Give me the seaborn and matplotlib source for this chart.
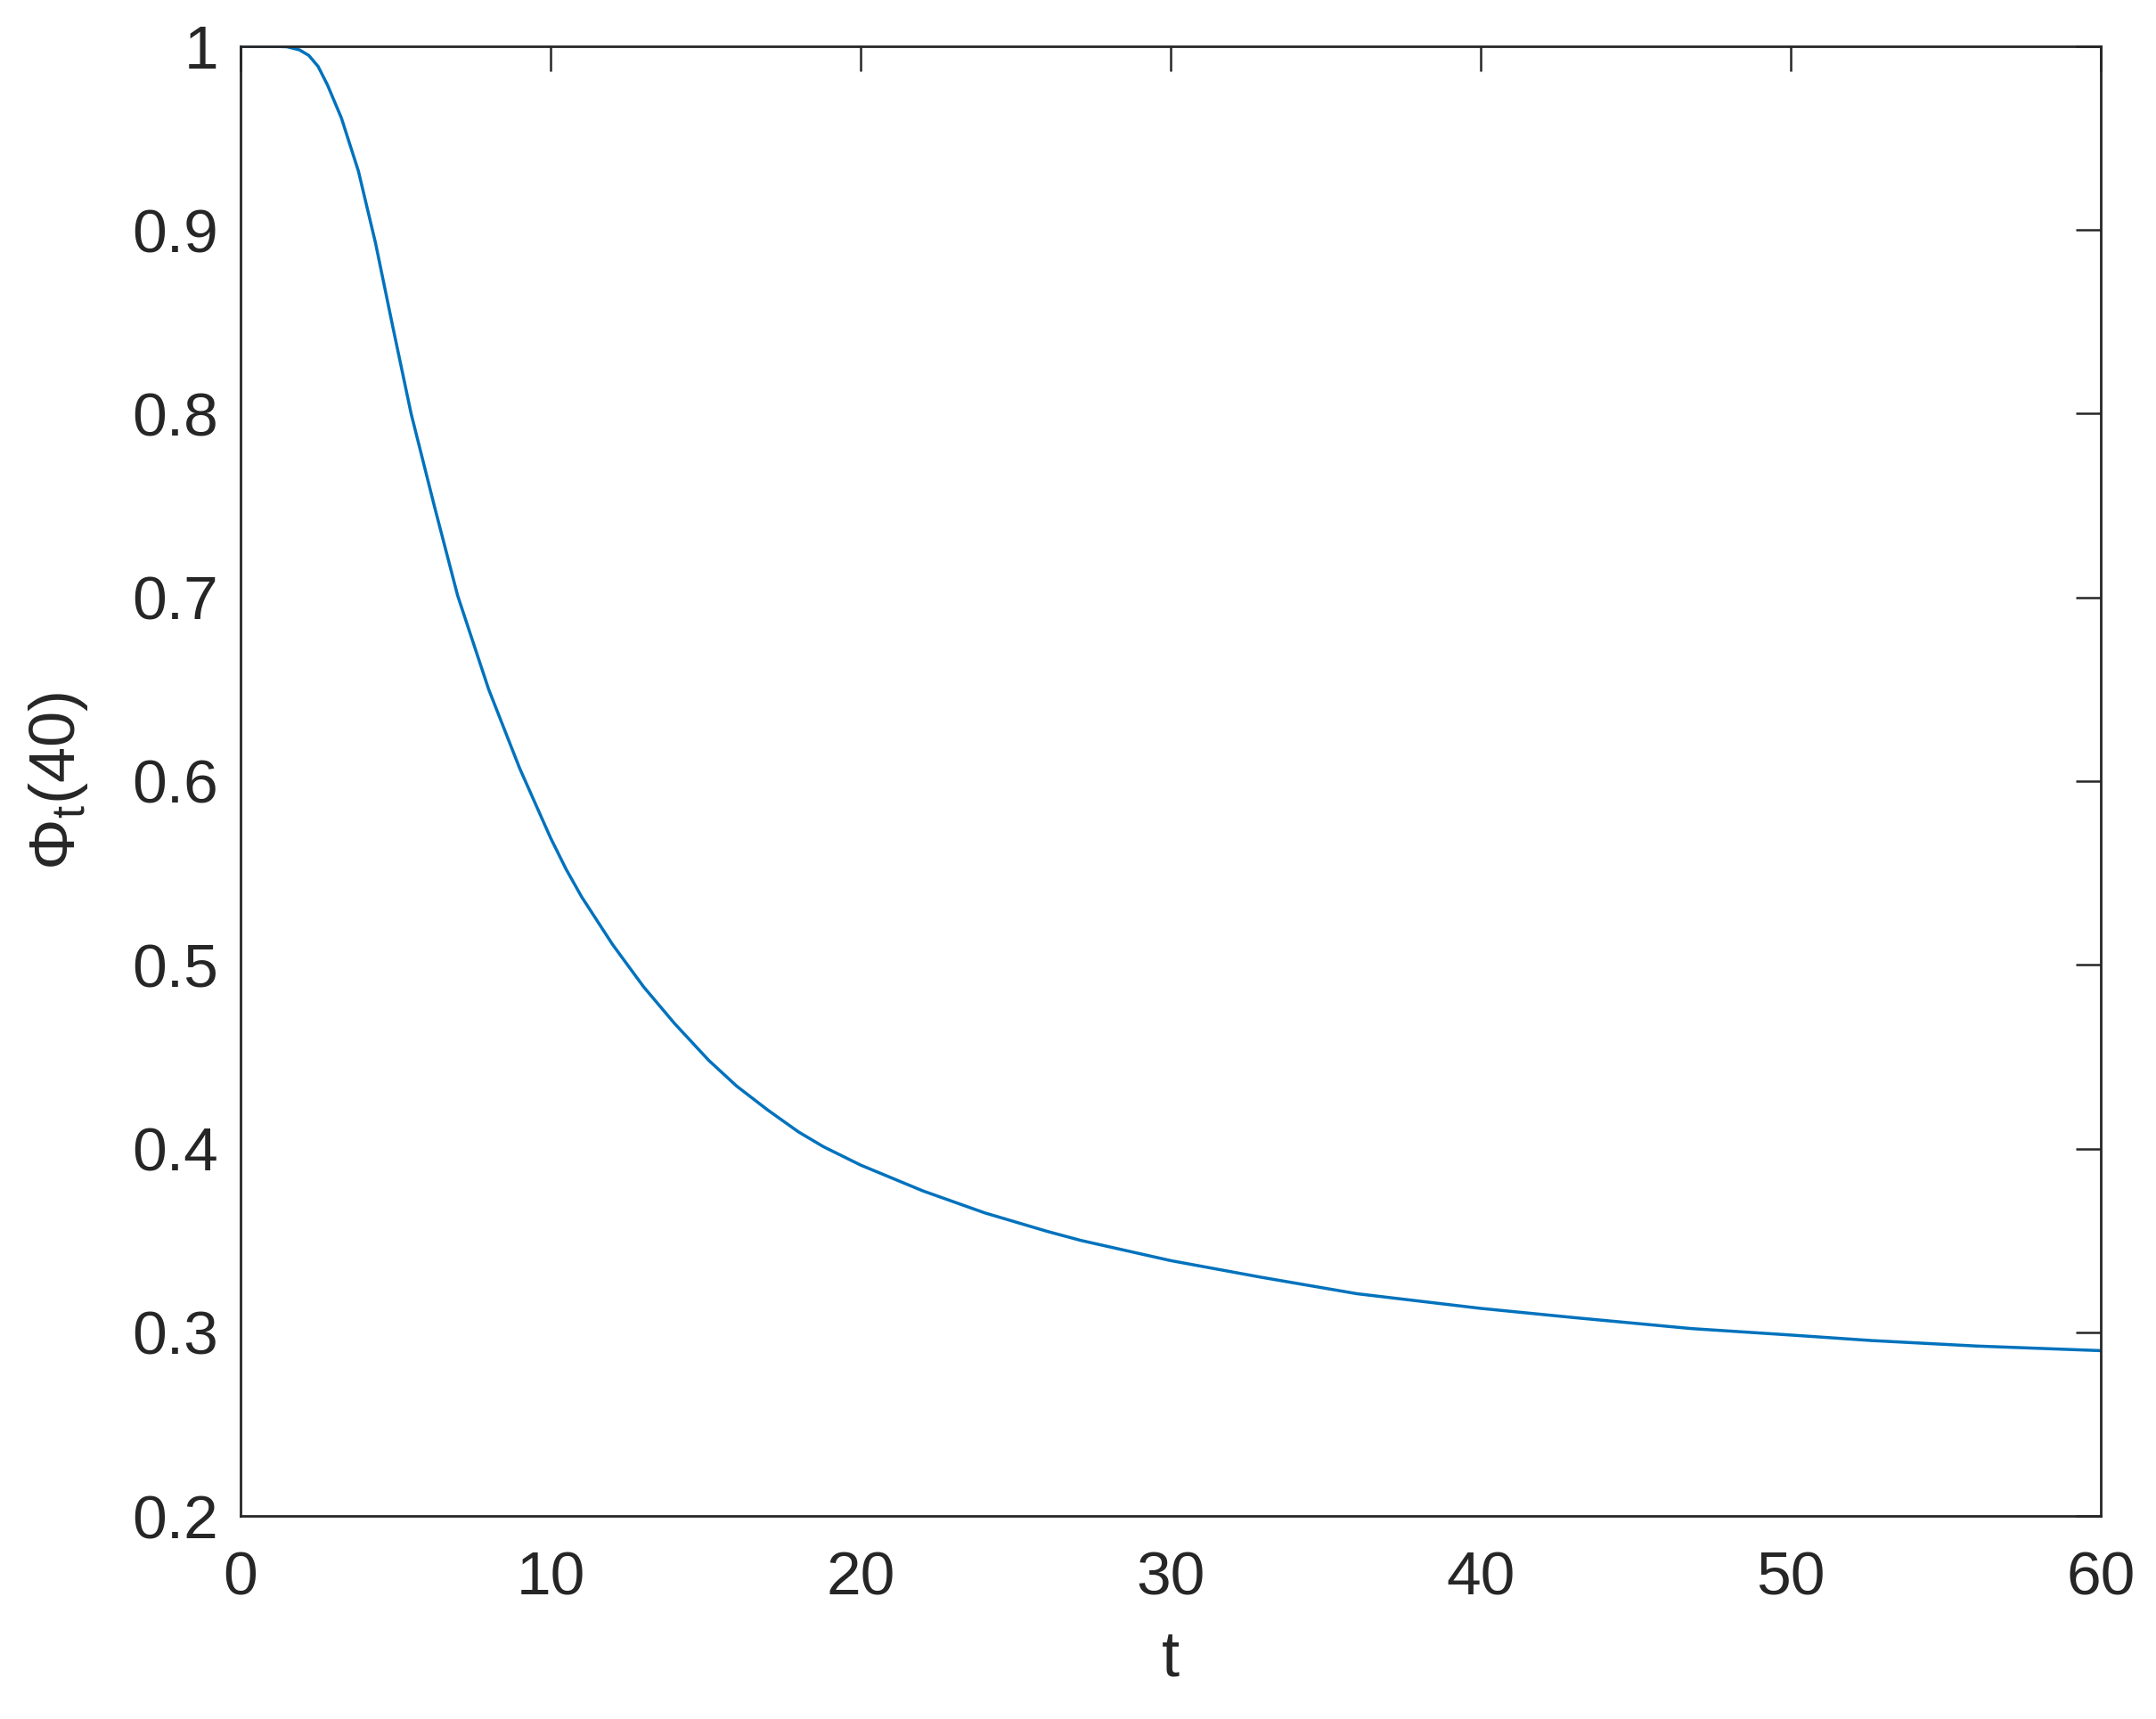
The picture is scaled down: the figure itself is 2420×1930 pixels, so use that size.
import numpy as np
import pandas as pd
import matplotlib
matplotlib.use('Agg')
import matplotlib.pyplot as plt
import seaborn as sns

# values
t_vals = [0, 1, 1.5, 1.9, 2.2, 2.5, 2.8, 3.25, 3.8, 4.35, 4.9, 5.5, 6.26, 7, 8, 9,
          10, 10.5, 11, 12, 13, 14, 15.1, 16, 17, 18, 18.8, 20, 22, 24, 26, 27.1,
          30, 32.9, 36, 40, 43, 46.8, 50, 52.6, 56, 60]
phi_vals = [1.0, 1.0, 0.9997, 0.998, 0.995, 0.989, 0.979, 0.961, 0.932, 0.893,
            0.848, 0.800, 0.749, 0.701, 0.650, 0.607, 0.569, 0.552, 0.537, 0.511,
            0.488, 0.468, 0.448, 0.434, 0.421, 0.409, 0.401, 0.391, 0.377, 0.365,
            0.355, 0.350, 0.339, 0.330, 0.321, 0.313, 0.308, 0.302, 0.2985, 0.2955,
            0.2925, 0.290]

x_ticks = [0, 10, 20, 30, 40, 50, 60]
y_ticks = [0.2, 0.3, 0.4, 0.5, 0.6, 0.7, 0.8, 0.9, 1]
y_ticklabels = ['0.2', '0.3', '0.4', '0.5', '0.6', '0.7', '0.8', '0.9', '1']

df = pd.DataFrame({'t': t_vals, 'phi': phi_vals})

sns.set_theme(style='white')
plt.rcParams['font.family'] = ['Liberation Sans', 'DejaVu Sans']
plt.rcParams['mathtext.fontset'] = 'custom'
plt.rcParams['mathtext.rm'] = 'Liberation Sans'

fig = plt.figure(figsize=(24.2, 19.3), dpi=100)
ax = fig.add_axes([0.1116, 0.1181, 0.8628, 0.855])

sns.lineplot(data=df, x='t', y='phi', ax=ax, color='#0072BD', linewidth=2.5)

ax.set_xlim(0, 60)
ax.set_ylim(0.2, 1)
ax.set_xticks(x_ticks)
ax.set_yticks(y_ticks)
ax.set_yticklabels(y_ticklabels)

for s in ax.spines.values():
    s.set_visible(True)
    s.set_color('#262626')
    s.set_linewidth(2)

ax.tick_params(axis='both', direction='in', length=20, width=1.8,
               colors='#262626', labelsize=50, top=True, right=True,
               labelcolor='#262626')
ax.tick_params(axis='x', pad=28)
ax.tick_params(axis='y', pad=18)

ax.set_xlabel('t', fontsize=52, color='#262626', labelpad=18)
ax.set_ylabel(r'$\mathregular{\Phi_t}$(40)', fontsize=52, color='#262626', labelpad=34)

plt.savefig('out.png', dpi=100)
